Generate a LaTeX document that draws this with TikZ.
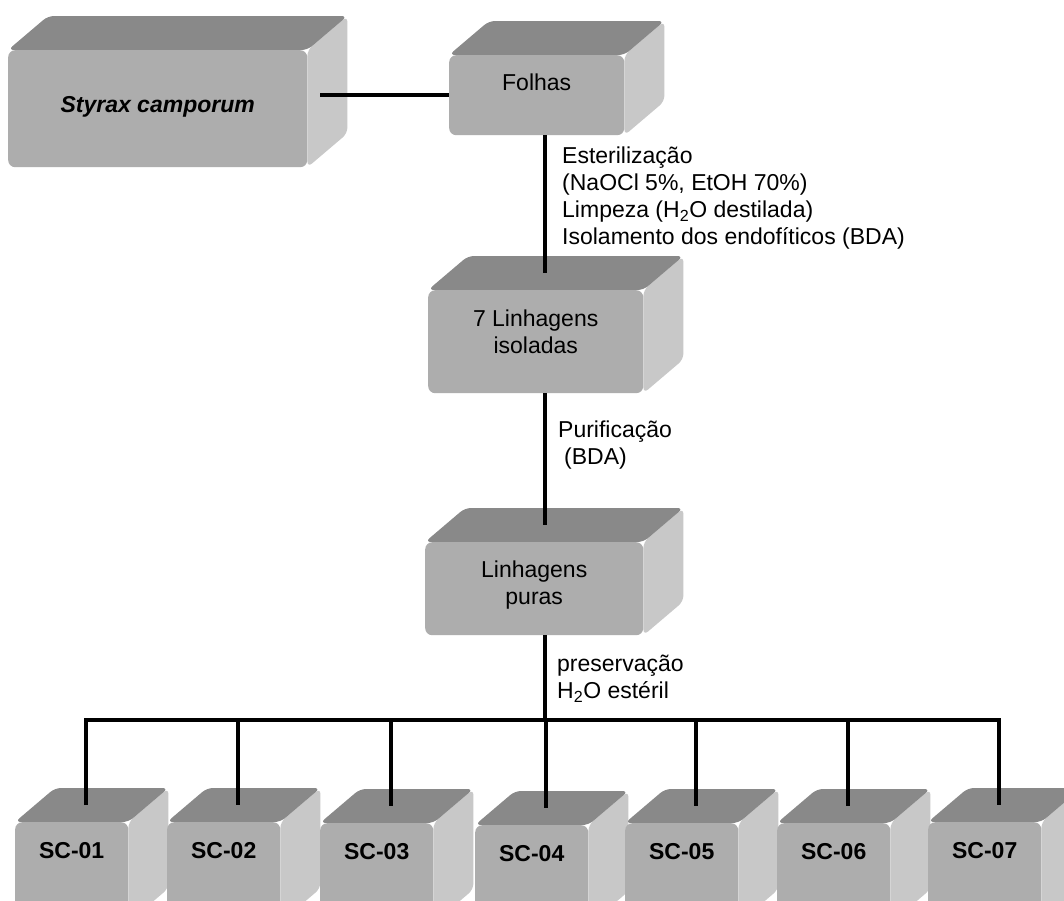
\documentclass[tikz,border=0pt]{standalone}
\usepackage{fontspec}
\setmainfont{Liberation Sans}
\usepackage{xcolor}
\usepackage{tikz}
\usetikzlibrary{calc, backgrounds}
\definecolor{cxfrente}{HTML}{ADADAD}
\definecolor{cxtampa}{HTML}{898989}
\definecolor{cxlado}{HTML}{C8C8C8}
\definecolor{cxlinha}{HTML}{000000}
\newcommand{\fdx}{40}
\newcommand{\fdy}{-34}
\tikzset{
  frente/.style={rectangle, fill=cxfrente, draw=none, rounded corners=7pt, inner sep=0pt},
  tampa/.style={fill=cxtampa, rounded corners=6pt},
  lado/.style={fill=cxlado, rounded corners=6pt},
  rotulo/.style={align=center, inner sep=0pt, font=\fontsize{23}{27}\selectfont},
  nota/.style={align=left, inner sep=0pt, anchor=north west, font=\fontsize{23}{27}\selectfont},
  liga/.style={draw=cxlinha, line width=3.6pt},
}
\newcommand{\caixa}[6]{%
  \node[frente, minimum width=#3pt, minimum height=#4pt, anchor=north west] (#1) at #2 {};
  \begin{scope}[on background layer]
    \fill[lado] (#1.south east) -- (#1.north east) -- ++(\fdx,\fdy)
      -- ($(#1.south east)+(\fdx,\fdy)$) -- cycle;
    \fill[tampa] (#1.north east) -- (#1.north west) -- ++(\fdx,\fdy)
      -- ($(#1.north east)+(\fdx,\fdy)$) -- cycle;
  \end{scope}
  \node[rotulo] (#1-txt) at ([yshift=#6pt]#1.center) {#5};
  \coordinate (#1-topo) at ($(#1.north)+(14,-17)$);
}

\begin{document}
\begin{tikzpicture}[x=1pt, y=-1pt]
  \begin{scope}[on background layer]
    \fill[white] (0,0) rectangle (1064,900);
  \end{scope}
  \useasboundingbox (0,0) rectangle (1064,900);
  % caixas
  \caixa{styrax}{(8,50)}{299}{117}{\bfseries\itshape Styrax camporum}{1.5}
  \caixa{folhas}{(449,55)}{175}{80}{Folhas}{13}
  \caixa{lin7}{(428,290)}{215}{103}{7 Linhagens\\isoladas}{9.5}
  \caixa{linp}{(425,542)}{218}{93}{Linhagens\\puras}{4}
  \foreach \i/\x/\y in {1/15/822, 2/167/822, 3/320/823, 4/475/825, 5/625/823, 6/777/823, 7/928/822}
    {\caixa{sc\i}{(\x,\y)}{113}{100}{\bfseries SC-0\i}{22}}
  % ligacoes
  \coordinate (eixo) at (545,0);
  \coordinate (barra) at (545,720);
  \coordinate (styrax-e) at ([xshift=13pt]styrax.east);
  \draw[liga] (styrax-e |- folhas.west) -- (folhas.west);
  \draw[liga] (folhas.south -| eixo) -- (lin7-topo -| eixo);
  \draw[liga] (lin7.south -| eixo) -- (linp-topo -| eixo);
  \draw[liga] (linp.south -| eixo) -- (barra);
  \draw[liga] (sc1-topo) -- (sc1-topo |- barra) -- (sc7-topo |- barra) -- (sc7-topo);
  \foreach \i in {2,...,6}
    \draw[liga] (sc\i-topo |- barra) -- (sc\i-topo);
  % textos
  \node[nota] (est) at (562,147) {Esterilização\\(NaOCl 5\%, EtOH 70\%)\\Limpeza (H\textsubscript{2}O destilada)\\Isolamento dos endofíticos (BDA)};
  \node[nota] (pur) at (558,421) {Purificação\\\hspace*{6pt}(BDA)};
  \node[nota] (pres) at (557,655) {preservação\\H\textsubscript{2}O estéril};
\end{tikzpicture}
\end{document}
